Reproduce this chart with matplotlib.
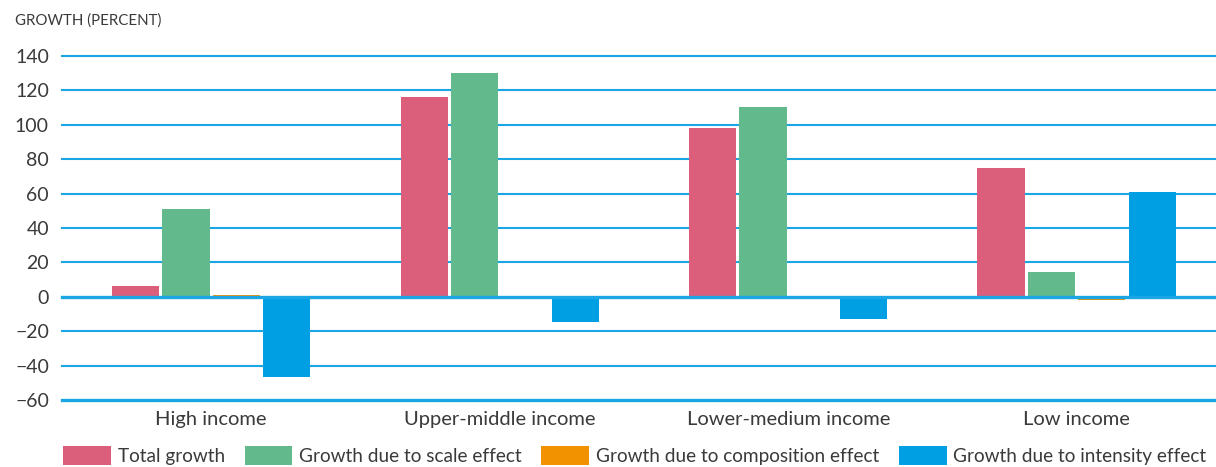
import numpy as np
import matplotlib.pyplot as plt

plt.rcParams['font.family'] = ['Lato', 'DejaVu Sans']

groups = ['High income', 'Upper-middle income', 'Lower-medium income', 'Low income']
series = ['Total growth', 'Growth due to scale effect',
          'Growth due to composition effect', 'Growth due to intensity effect']
total = [6, 116, 98, 75]
scale = [51, 130, 110.5, 14.5]
composition = [1, 0.5, 0.3, -2]
intensity = [-46.5, -14.4, -12.8, 61]
colors = ['#db5f7a', '#61b98c', '#f39200', '#009fe3']

fig = plt.figure(figsize=(12.16, 4.67), dpi=100)
ax = fig.add_axes([0.0551, 0.1435, 0.949, 0.7365])

x = np.arange(len(groups))
w = 0.163
step = 0.175
for i, (vals, c, lab) in enumerate(zip([total, scale, composition, intensity], colors, series)):
    ax.bar(x + (i - 1.5) * step, vals, width=w, color=c, label=lab, zorder=3)

ticks = np.arange(-60, 141, 20)
for t in ticks:
    lw = 2.4 if t in (0, -60) else 1.5
    ax.axhline(t, xmin=-0.004, color='#1aa6e4', lw=lw, zorder=2 if t != 0 else 4, clip_on=False)

ax.set_ylim(-60, 140)
ax.set_xlim(-0.5, 3.5)
ax.set_yticks(ticks)
ax.set_yticklabels([str(t).replace('-', '\u2212') for t in ticks])
ax.set_xticks(x)
ax.set_xticklabels(groups)
ax.tick_params(axis='both', length=0, labelsize=14.5, colors='#3a3a3a')
ax.tick_params(axis='y', labelsize=14, pad=13)
ax.tick_params(axis='x', pad=8)
for s in ax.spines.values():
    s.set_visible(False)

fig.text(0.012, 0.955, 'GROWTH (PERCENT)', fontsize=10.8, color='#3a3a3a', va='center')

fig.legend(loc='lower left', bbox_to_anchor=(0.0505, 0.0), ncol=4, frameon=False,
           fontsize=13.7, handlelength=2.5, handleheight=1.15, handletextpad=0.35,
           columnspacing=1.05, borderaxespad=0, borderpad=0.1, labelcolor='#3a3a3a')

fig.savefig('out.png', dpi=100)
